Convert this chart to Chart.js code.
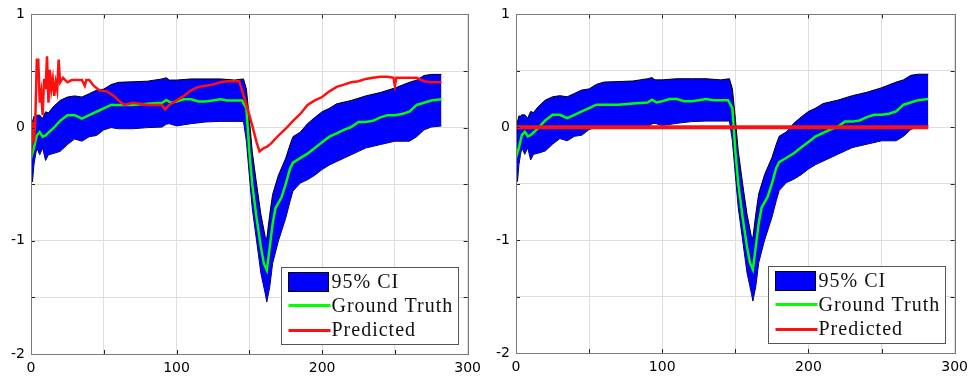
<!DOCTYPE html>
<html>
<head>
<meta charset="utf-8">
<script src="https://cdn.jsdelivr.net/npm/chart.js@4.4.1/dist/chart.umd.min.js"></script>
<style>
    html, body { margin: 0; padding: 0; background: #fff; }
    .wrap { display: flex; width: 974px; height: 377px; }
    .panel { position: relative; width: 487px; height: 377px; }
</style>
</head>
<body>
<div class="wrap">
    <div class="panel"><canvas id="leftChart"></canvas></div>
    <div class="panel"><canvas id="rightChart"></canvas></div>
</div>
<script>
// 95% CI band (shared by both panels)
const ciX = [0, 1, 2, 3, 4, 6, 8, 10, 12, 15, 20, 25, 30, 35, 40, 45, 50, 55, 60, 70, 80, 90, 93, 95, 100, 110, 120, 130, 140, 146,
    148, 150, 152, 155, 158, 161, 162, 164, 166, 170, 175, 178, 180, 185, 190, 195, 200, 205, 210, 220, 230, 240, 250, 260, 265, 270, 275, 282];
const ciUpper = [-0.15, 0.05, 0.1, 0.1, 0.11, 0.11, 0.08, 0.14, 0.13, 0.18, 0.24, 0.27, 0.28, 0.27, 0.3, 0.33, 0.34, 0.38, 0.4, 0.405, 0.41, 0.43, 0.44, 0.42, 0.42, 0.43, 0.43, 0.43, 0.42, 0.43,
    0.34, 0.08, -0.21, -0.5, -0.77, -0.97, -0.98, -0.77, -0.59, -0.42, -0.27, -0.15, -0.08, -0.04, 0.035, 0.09, 0.14, 0.17, 0.21, 0.24, 0.28, 0.31, 0.35, 0.4, 0.42, 0.46, 0.47, 0.47];
const ciLower = [-0.35, -0.48, -0.33, -0.25, -0.18, -0.24, -0.18, -0.29, -0.24, -0.23, -0.21, -0.15, -0.1, -0.12, -0.08, -0.07, -0.02, 0.0, -0.01, -0.01, 0.0, 0.005, 0.03, 0.035, 0.015, 0.035, 0.05, 0.055, 0.055, 0.055,
    -0.12, -0.42, -0.71, -1.0, -1.29, -1.47, -1.54, -1.41, -1.2, -1.0, -0.8, -0.65, -0.56, -0.49, -0.46, -0.42, -0.37, -0.33, -0.3, -0.24, -0.18, -0.15, -0.12, -0.12, -0.08, -0.02, 0.005, 0.015];

// ground truth (shared)
const truthX = [0, 2, 4, 6, 8, 10, 15, 20, 25, 30, 35, 40, 45, 50, 55, 60, 70, 80, 90, 93, 96, 100, 105, 110, 115, 120, 125, 130, 135, 140, 145,
    148, 150, 152, 155, 158, 160, 162, 164, 166, 168, 172, 175, 178, 180, 185, 190, 195, 200, 205, 210, 215, 220, 225, 230, 235, 240, 245, 250, 255, 260, 265, 270, 275, 282];
const truthY = [-0.27, -0.18, -0.07, -0.04, -0.08, -0.07, -0.01, 0.06, 0.11, 0.11, 0.08, 0.11, 0.14, 0.17, 0.2, 0.2, 0.2, 0.21, 0.22, 0.245, 0.22, 0.23, 0.25, 0.25, 0.23, 0.23, 0.24, 0.25, 0.24, 0.24, 0.24,
    0.17, -0.21, -0.5, -0.8, -1.06, -1.2, -1.26, -1.06, -0.85, -0.71, -0.62, -0.5, -0.36, -0.31, -0.27, -0.23, -0.18, -0.13, -0.08, -0.05, -0.02, 0.005, 0.05, 0.05, 0.06, 0.09, 0.11, 0.11, 0.12, 0.14, 0.2, 0.22, 0.24, 0.25];

// predicted, left panel
const predX = [0, 1, 2, 3, 4, 5, 6, 7, 8, 9, 10, 11, 12, 13, 14, 15, 16, 17, 18, 19, 20, 22, 25, 28, 30, 35, 37, 38, 40, 43, 47, 52, 57, 60, 64, 70, 75, 80, 85, 90, 92, 95,
    100, 105, 110, 115, 120, 125, 130, 135, 140, 143, 145, 148, 150, 152, 155, 157, 160, 162, 165, 170, 175, 180, 185, 190, 195, 200, 205, 210, 215, 220, 225, 230, 235, 240, 245, 249, 250, 251, 255, 260, 265, 270, 275, 280, 282];
const predY = [-0.27, 0.05, -0.13, 0.08, 0.6, 0.6, 0.22, 0.31, 0.11, 0.43, 0.34, 0.63, 0.22, 0.51, 0.34, 0.43, 0.28, 0.4, 0.33, 0.6, 0.4, 0.44, 0.4, 0.42, 0.42, 0.42, 0.37, 0.42, 0.42, 0.37, 0.33, 0.32, 0.28, 0.24, 0.2, 0.22, 0.21, 0.2, 0.2, 0.2, 0.16, 0.2,
    0.24, 0.28, 0.33, 0.36, 0.37, 0.38, 0.4, 0.41, 0.41, 0.41, 0.33, 0.2, 0.11, 0.02, -0.13, -0.21, -0.18, -0.17, -0.14, -0.07, -0.01, 0.06, 0.12, 0.2, 0.24, 0.27, 0.32, 0.36, 0.38, 0.4, 0.41, 0.43, 0.44, 0.45, 0.45, 0.44, 0.37, 0.44, 0.44, 0.44, 0.44, 0.41, 0.4, 0.4, 0.4];

// predicted, right panel
const predFlatX = [0, 282];
const predFlatY = [0, 0];

const legendLabels = ['95% CI', 'Ground Truth', 'Predicted'];

const points = (xs, ys) => xs.map((x, i) => ({ x, y: ys[i] }));

// matlab-like box, inward ticks and legend
const boxPlugin = {
    id: 'box',
    afterDraw(chart) {
        const { ctx, chartArea: a, scales } = chart;
        ctx.save();
        ctx.strokeStyle = '#222';
        ctx.lineWidth = 1;
        ctx.beginPath();
        scales.x.ticks.forEach(t => {
            const px = Math.round(scales.x.getPixelForValue(t.value)) + 0.5;
            ctx.moveTo(px, a.bottom); ctx.lineTo(px, a.bottom - 4);
            ctx.moveTo(px, a.top); ctx.lineTo(px, a.top + 4);
        });
        scales.y.ticks.forEach(t => {
            const py = Math.round(scales.y.getPixelForValue(t.value)) + 0.5;
            ctx.moveTo(a.left, py); ctx.lineTo(a.left + 4, py);
            ctx.moveTo(a.right, py); ctx.lineTo(a.right - 4, py);
        });
        ctx.stroke();
        ctx.strokeStyle = '#7a7a7a';
        ctx.strokeRect(Math.round(a.left) + 0.5, Math.round(a.top) + 0.5, Math.round(a.right - a.left), Math.round(a.bottom - a.top));

        // legend
        const w = 177, h = 77;
        const lx = Math.round(a.right - 10 - w) + 0.5;
        const ly = Math.round(a.bottom - 10 - h) + 0.5;
        ctx.fillStyle = '#fff';
        ctx.fillRect(lx, ly, w, h);
        ctx.strokeStyle = '#555';
        ctx.strokeRect(lx, ly, w, h);

        ctx.fillStyle = '#0000ff';
        ctx.fillRect(lx + 7, ly + 5, 40, 19);
        ctx.strokeStyle = '#000';
        ctx.strokeRect(lx + 7, ly + 5, 40, 19);

        ctx.lineWidth = 3;
        ctx.strokeStyle = '#00ff00';
        ctx.beginPath(); ctx.moveTo(lx + 7, ly + 38); ctx.lineTo(lx + 49, ly + 38); ctx.stroke();
        ctx.strokeStyle = '#ff1010';
        ctx.beginPath(); ctx.moveTo(lx + 7, ly + 63); ctx.lineTo(lx + 49, ly + 63); ctx.stroke();

        ctx.fillStyle = '#111';
        ctx.font = '20px "Liberation Serif"';
        ctx.letterSpacing = '1px';
        ctx.textBaseline = 'alphabetic';
        ctx.fillText(legendLabels[0], lx + 50, ly + 20);
        ctx.fillText(legendLabels[1], lx + 50, ly + 44);
        ctx.fillText(legendLabels[2], lx + 50, ly + 68);
        ctx.restore();
    }
};

function makeChart(id, pX, pY, pWidth, yAxisWidth, xAxisHeight, topPad) {
    const ctx = document.getElementById(id).getContext('2d');
    return new Chart(ctx, {
        type: 'line',
        data: {
            datasets: [
                {
                    label: 'Predicted',
                    data: points(pX, pY),
                    borderColor: '#ff1010',
                    borderWidth: pWidth,
                    pointRadius: 0,
                    fill: false,
                    order: 0
                },
                {
                    label: 'Ground Truth',
                    data: points(truthX, truthY),
                    borderColor: '#00ff00',
                    borderWidth: 2.5,
                    pointRadius: 0,
                    fill: false,
                    order: 1
                },
                {
                    label: '95% CI',
                    data: points(ciX, ciUpper),
                    borderColor: '#000',
                    borderWidth: 1,
                    backgroundColor: '#0000ff',
                    pointRadius: 0,
                    fill: '+1',
                    order: 2
                },
                {
                    label: '95% CI lower',
                    data: points(ciX, ciLower),
                    borderColor: '#000',
                    borderWidth: 1,
                    pointRadius: 0,
                    fill: false,
                    order: 3
                }
            ]
        },
        options: {
            responsive: true,
            maintainAspectRatio: false,
            animation: false,
            layout: { padding: { top: topPad, right: 17, left: 0, bottom: 0 } },
            plugins: {
                legend: { display: false },
                tooltip: { enabled: false }
            },
            scales: {
                x: {
                    type: 'linear',
                    min: 0,
                    max: 300,
                    border: { display: false },
                    grid: { color: '#dedede', drawTicks: false },
                    ticks: {
                        stepSize: 50,
                        autoSkip: false,
                        maxRotation: 0,
                        padding: 6,
                        color: '#000',
                        font: { family: 'DejaVu Sans', size: 14 },
                        callback: v => v % 100 === 0 ? v : ''
                    },
                    afterFit: scale => { scale.height = xAxisHeight; }
                },
                y: {
                    min: -2,
                    max: 1,
                    border: { display: false },
                    grid: { color: '#dedede', drawTicks: false },
                    ticks: {
                        stepSize: 0.5,
                        autoSkip: false,
                        padding: 6,
                        color: '#000',
                        font: { family: 'DejaVu Sans', size: 14 },
                        callback: v => Number.isInteger(v) ? v : ''
                    },
                    afterFit: scale => { scale.width = yAxisWidth; }
                }
            }
        },
        plugins: [boxPlugin]
    });
}

makeChart('leftChart', predX, predY, 2.5, 31, 23, 11);
makeChart('rightChart', predFlatX, predFlatY, 4, 29, 24, 10);
</script>
</body>
</html>
